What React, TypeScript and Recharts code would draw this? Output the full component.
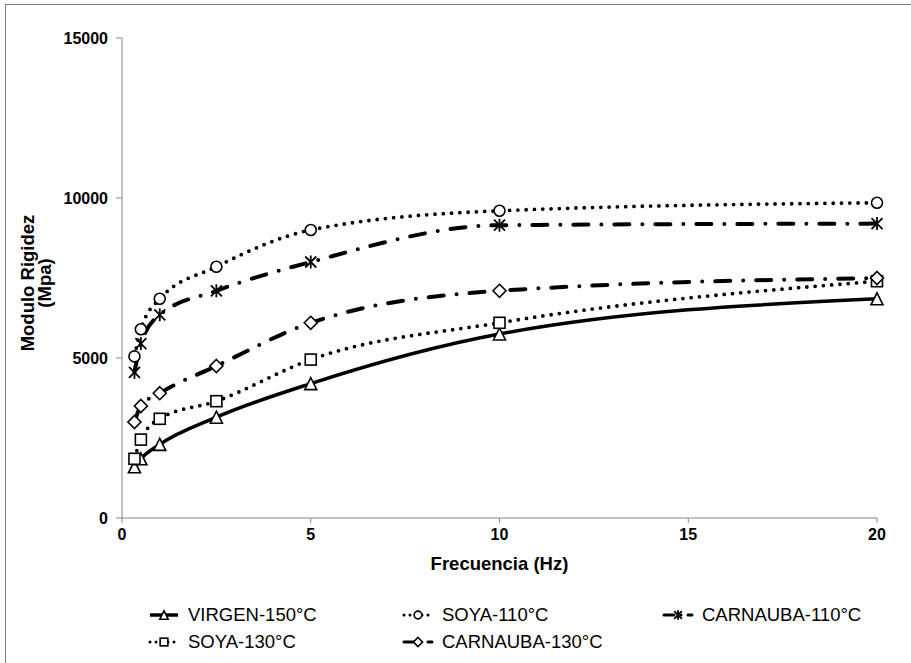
import { LineChart, Line, XAxis, YAxis, Legend } from "recharts";

// Frecuencia (Hz) y módulo de rigidez (MPa) por mezcla
const frequencies = [0.33, 0.5, 1, 2.5, 5, 10, 20];
const virgen150 = [1600, 1850, 2300, 3150, 4200, 5750, 6850];
const soya110 = [5050, 5900, 6850, 7850, 9000, 9600, 9850];
const carnauba110 = [4550, 5450, 6350, 7100, 8000, 9150, 9200];
const soya130 = [1850, 2450, 3100, 3650, 4950, 6100, 7400];
const carnauba130 = [3000, 3500, 3900, 4750, 6100, 7100, 7500];

const xTicks = [0, 5, 10, 15, 20];
const yTicks = [0, 5000, 10000, 15000];

const FONT = '"Liberation Sans", Arial, sans-serif';
const AXIS = "#868686";

type Shape = "triangle" | "circle" | "star" | "square" | "diamond";

const series: {
  key: string;
  name: string;
  values: number[];
  shape: Shape;
  dash?: string;
  width: number;
}[] = [
  { key: "virgen150", name: "VIRGEN-150°C", values: virgen150, shape: "triangle", width: 3.5 },
  { key: "soya110", name: "SOYA-110°C", values: soya110, shape: "circle", dash: "0 8.3", width: 3.8 },
  { key: "carnauba110", name: "CARNAUBA-110°C", values: carnauba110, shape: "star", dash: "15 13 0 13", width: 4 },
  { key: "soya130", name: "SOYA-130°C", values: soya130, shape: "square", dash: "0 8.3", width: 3.8 },
  { key: "carnauba130", name: "CARNAUBA-130°C", values: carnauba130, shape: "diamond", dash: "15 13 0 13", width: 4 },
];

const data = frequencies.map((f, i) => {
  const row: Record<string, number> = { f };
  series.forEach((s) => (row[s.key] = s.values[i]));
  return row;
});

function Marker({ cx, cy, shape, s = 1 }: { cx: number; cy: number; shape: Shape; s?: number }) {
  const common = { fill: "#fff", stroke: "#000", strokeWidth: 1.6 };
  if (shape === "circle") return <circle cx={cx} cy={cy} r={5.5 * s} {...common} />;
  if (shape === "square")
    return <rect x={cx - 5.5 * s} y={cy - 5.5 * s} width={11 * s} height={11 * s} {...common} />;
  if (shape === "triangle") {
    const h = 6 * s;
    return <polygon points={`${cx},${cy - h} ${cx + h},${cy + h} ${cx - h},${cy + h}`} {...common} />;
  }
  if (shape === "diamond") {
    const h = 6.5 * s;
    return (
      <polygon points={`${cx},${cy - h} ${cx + h},${cy} ${cx},${cy + h} ${cx - h},${cy}`} {...common} />
    );
  }
  const h = 5.5 * s;
  return (
    <g stroke="#000" strokeWidth={1.8}>
      <line x1={cx - h} y1={cy - h} x2={cx + h} y2={cy + h} />
      <line x1={cx - h} y1={cy + h} x2={cx + h} y2={cy - h} />
      <line x1={cx} y1={cy - h - 1} x2={cx} y2={cy + h + 1} />
    </g>
  );
}

function YTitle() {
  return (
    <text
      transform="rotate(-90, 34, 283)"
      x={34}
      y={283}
      textAnchor="middle"
      fontFamily={FONT}
      fontWeight="bold"
      fontSize={18.5}
      fill="#000"
    >
      <tspan x={34} dy={0}>Modulo Rigidez</tspan>
      <tspan x={34} dy={17}>(Mpa)</tspan>
    </text>
  );
}

const legendCols = [148, 402, 662];

function LegendBox() {
  return (
    <div style={{ position: "relative", width: 911, height: 60, fontFamily: FONT, fontSize: 18.5 }}>
      {series.map((s, i) => {
        const col = i % 3;
        const row = Math.floor(i / 3);
        return (
          <div
            key={s.key}
            style={{
              position: "absolute",
              left: legendCols[col],
              top: row * 27,
              height: 20,
              display: "flex",
              alignItems: "center",
              whiteSpace: "nowrap",
            }}
          >
            <svg width={32} height={20}>
              <line
                x1={2}
                y1={10}
                x2={30}
                y2={10}
                stroke="#000"
                strokeWidth={s.dash ? 3 : 3.5}
                strokeDasharray={s.dash ? (s.dash.startsWith("0") ? "0 6" : "10 7 0 7") : undefined}
                strokeLinecap={s.dash ? "round" : "butt"}
              />
              <Marker cx={16} cy={10} shape={s.shape} s={0.7} />
            </svg>
            <span style={{ marginLeft: 8 }}>{s.name}</span>
          </div>
        );
      })}
    </div>
  );
}

export default function App() {
  return (
    <div style={{ position: "absolute", left: 0, top: 0, width: 911, height: 663, overflow: "hidden", background: "#fff" }}>
      <div
        style={{
          position: "absolute",
          left: 5,
          top: 4,
          width: 930,
          height: 680,
          border: "1.5px solid #7f7f7f",
        }}
      />
      <LineChart
        width={911}
        height={663}
        data={data}
        margin={{ top: 38, right: 34, left: 0, bottom: 113 }}
        style={{ fontFamily: FONT }}
      >
        <XAxis
          dataKey="f"
          type="number"
          domain={[0, 20]}
          ticks={xTicks}
          height={32}
          stroke={AXIS}
          tickSize={5}
          tickMargin={6}
          tick={{ fill: "#000", fontSize: 16, fontWeight: "bold" }}
          label={{
            value: "Frecuencia (Hz)",
            position: "bottom",
            offset: 7,
            fill: "#000",
            fontSize: 18.5,
            fontWeight: "bold",
          }}
        />
        <YAxis
          type="number"
          domain={[0, 15000]}
          ticks={yTicks}
          width={122}
          stroke={AXIS}
          tickSize={6}
          tickMargin={8}
          tick={{ fill: "#000", fontSize: 16, fontWeight: "bold" }}
          label={{ content: () => <YTitle /> }}
        />
        <Legend
          layout="horizontal"
          verticalAlign="middle"
          align="center"
          wrapperStyle={{ left: 0, top: 605, width: 911 }}
          content={() => <LegendBox />}
        />
        {series.map((s) => (
          <Line
            key={s.key}
            dataKey={s.key}
            name={s.name}
            type="monotone"
            stroke="#000"
            strokeWidth={s.width}
            strokeDasharray={s.dash}
            strokeLinecap="round"
            isAnimationActive={false}
            dot={(p: any) => <Marker key={`${s.key}-${p.index}`} cx={p.cx} cy={p.cy} shape={s.shape} />}
            activeDot={false}
          />
        ))}
      </LineChart>
    </div>
  );
}
